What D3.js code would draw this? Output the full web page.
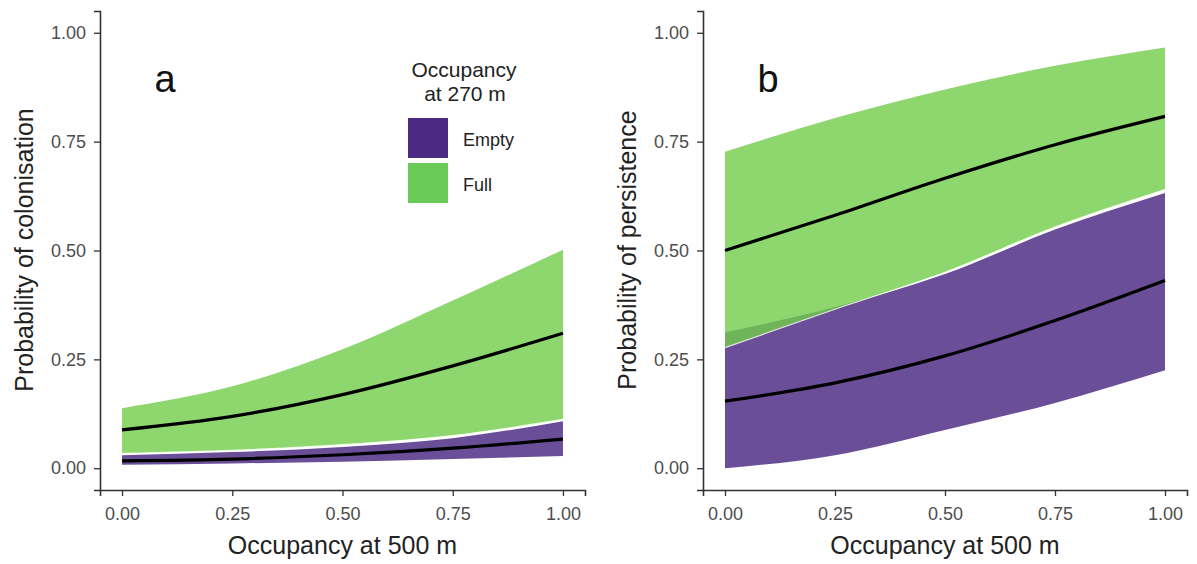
<!DOCTYPE html>
<html lang="en">
<head>
<meta charset="UTF-8">
<title>Occupancy</title>
<script src="https://d3js.org/d3.v7.min.js"></script>
<style>
  body { margin: 0; background: #fff; }
  text { font-family: "Liberation Sans", Arial, sans-serif; }
</style>
</head>
<body>
<div id="chart"></div>
<script>
// x positions (occupancy at 500 m)
var occ500 = [0, 0.25, 0.5, 0.75, 1];
var xTicks = [0, 0.25, 0.5, 0.75, 1];
var yTicks = [0, 0.25, 0.5, 0.75, 1];

// panel a: colonisation
var colEmptyFit = [0.017, 0.021, 0.031, 0.046, 0.067];
var colEmptyLo  = [0.008, 0.011, 0.015, 0.021, 0.028];
var colEmptyHi  = [0.030, 0.037, 0.049, 0.069, 0.108];
var colFullFit  = [0.088, 0.119, 0.169, 0.235, 0.310];
var colFullLo   = [0.034, 0.041, 0.054, 0.075, 0.112];
var colFullHi   = [0.138, 0.188, 0.273, 0.385, 0.502];

// panel b: persistence
var perEmptyFit = [0.154, 0.196, 0.258, 0.339, 0.431];
var perEmptyLo  = [0.000, 0.030, 0.088, 0.150, 0.225];
var perEmptyHi  = [0.312, 0.370, 0.446, 0.548, 0.632];
var perFullFit  = [0.500, 0.581, 0.666, 0.743, 0.808];
var perFullLo   = [0.277, 0.365, 0.450, 0.554, 0.640];
var perFullHi   = [0.727, 0.804, 0.870, 0.924, 0.966];

var legendLabels = ["Empty", "Full"];
var legendColors = ["#4a2a82", "#6acb58"];
var ribbonColors = ["#45237e", "#72cd4b"];

var width = 1197, height = 564;
var svg = d3.select("#chart").append("svg")
    .attr("width", width)
    .attr("height", height);

function panel(left, right, letter, ytitle, empty, full) {
  var x = d3.scaleLinear().domain([-0.05, 1.05]).range([left, right]);
  var y = d3.scaleLinear().domain([-0.05, 1.05]).range([490, 11]);
  var g = svg.append("g");

  var area = function (lo, hi) {
    return d3.area()
      .x(function (d, i) { return x(occ500[i]); })
      .y0(function (d, i) { return y(lo[i]); })
      .y1(function (d, i) { return y(hi[i]); })
      .curve(d3.curveMonotoneX)(occ500);
  };
  var line = function (v) {
    return d3.line()
      .x(function (d, i) { return x(occ500[i]); })
      .y(function (d, i) { return y(v[i]); })
      .curve(d3.curveMonotoneX)(occ500);
  };

  g.append("path").attr("d", area(empty.lo, empty.hi))
    .attr("fill", ribbonColors[0]).attr("fill-opacity", 0.8);
  g.append("path").attr("d", area(full.lo, full.hi))
    .attr("fill", ribbonColors[1]).attr("fill-opacity", 0.8);
  // thin white edge along the lower side of the Full ribbon
  g.append("path").attr("d", line(full.lo))
    .attr("fill", "none").attr("stroke", "#fff").attr("stroke-opacity", 0.8)
    .attr("stroke-width", 1.2);

  [empty.fit, full.fit].forEach(function (v) {
    g.append("path").attr("d", line(v))
      .attr("fill", "none").attr("stroke", "#000").attr("stroke-width", 3.2);
  });

  var fmt = d3.format(".2f");
  var xa = g.append("g").attr("transform", "translate(0,490)")
    .call(d3.axisBottom(x).tickValues(xTicks).tickFormat(fmt).tickSizeOuter(0).tickSize(6).tickPadding(11));
  var ya = g.append("g").attr("transform", "translate(" + left + ",0)")
    .call(d3.axisLeft(y).tickValues(yTicks).tickFormat(fmt).tickSizeOuter(0).tickSize(6).tickPadding(8));
  [xa, ya].forEach(function (a) {
    a.select(".domain").attr("stroke", "#333").attr("stroke-width", 1.6);
    a.selectAll(".tick line").attr("stroke", "#333").attr("stroke-width", 1.3);
    a.selectAll(".tick text").attr("fill", "#4d4d4d").style("font-size", "18px")
      .style("font-family", "'Liberation Sans', Arial, sans-serif");
  });

  g.append("text").attr("x", (x(0) + x(1)) / 2).attr("y", 554)
    .attr("text-anchor", "middle").style("font-size", "25px").attr("fill", "#222")
    .text("Occupancy at 500 m");
  g.append("text")
    .attr("transform", "translate(" + (left - 67) + ",250) rotate(-90)")
    .attr("text-anchor", "middle").style("font-size", "25px").attr("fill", "#222")
    .text(ytitle);
  g.append("text").attr("x", x(0) + 43).attr("y", 92)
    .attr("text-anchor", "middle").style("font-size", "38px").attr("fill", "#111")
    .text(letter);
}

panel(100, 585, "a", "Probability of colonisation",
  { fit: colEmptyFit, lo: colEmptyLo, hi: colEmptyHi },
  { fit: colFullFit, lo: colFullLo, hi: colFullHi });
panel(703, 1187, "b", "Probability of persistence",
  { fit: perEmptyFit, lo: perEmptyLo, hi: perEmptyHi },
  { fit: perFullFit, lo: perFullLo, hi: perFullHi });

// legend
var leg = svg.append("g");
leg.append("text").attr("x", 464).attr("y", 77).attr("text-anchor", "middle")
  .style("font-size", "21px").attr("fill", "#222").text("Occupancy");
leg.append("text").attr("x", 465).attr("y", 101).attr("text-anchor", "middle")
  .style("font-size", "21px").attr("fill", "#222").text("at 270 m");
legendLabels.forEach(function (lab, i) {
  leg.append("rect").attr("x", 408).attr("y", 118 + i * 45)
    .attr("width", 40).attr("height", 40).attr("fill", legendColors[i]);
  leg.append("text").attr("x", 463).attr("y", 146 + i * 45)
    .style("font-size", "18px").attr("fill", "#222").text(lab);
});
</script>
</body>
</html>
